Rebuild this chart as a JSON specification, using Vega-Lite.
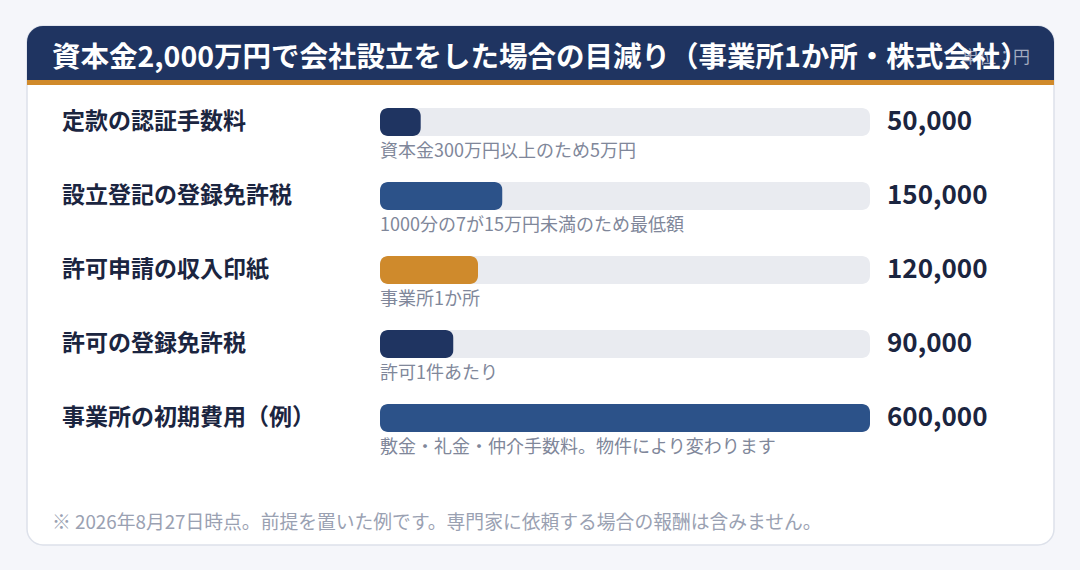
{
  "$schema": "https://vega.github.io/schema/vega-lite/v6.json",
  "width": 1080,
  "height": 570,
  "autosize": {"type": "fit", "contains": "padding"},
  "padding": {"left": 27, "right": 26, "top": 26, "bottom": 25},
  "background": "#f5f6fa",
  "config": {
    "view": {"fill": "#ffffff", "stroke": "#dde1ea", "strokeWidth": 1.5, "cornerRadius": 16},
    "font": "Noto Sans CJK JP"
  },
  "data": {
    "values": [
      {"item": "定款の認証手数料", "value": 50000, "note": "資本金300万円以上のため5万円", "tone": "navy"},
      {"item": "設立登記の登録免許税", "value": 150000, "note": "1000分の7が15万円未満のため最低額", "tone": "blue"},
      {"item": "許可申請の収入印紙", "value": 120000, "note": "事業所1か所", "tone": "orange"},
      {"item": "許可の登録免許税", "value": 90000, "note": "許可1件あたり", "tone": "navy"},
      {"item": "事業所の初期費用（例）", "value": 600000, "note": "敷金・礼金・仲介手数料。物件により変わります", "tone": "blue"}
    ]
  },
  "layer": [
    {
      "data": {"values": [{"part": "header"}]},
      "mark": {"type": "rect", "color": "#1f3461", "cornerRadiusTopLeft": 16, "cornerRadiusTopRight": 16},
      "encoding": {"x": {"value": 0}, "x2": {"value": "width"}, "y": {"value": 0}, "y2": {"value": 54}}
    },
    {
      "data": {"values": [{"part": "accent"}]},
      "mark": {"type": "rect", "color": "#d08a2b"},
      "encoding": {"x": {"value": 0}, "x2": {"value": "width"}, "y": {"value": 54}, "y2": {"value": 59}}
    },
    {
      "data": {"values": [{"t": "単位：円"}]},
      "mark": {"type": "text", "align": "right", "baseline": "middle", "fontSize": 17, "color": "#a3abc0"},
      "encoding": {"x": {"value": 1003}, "y": {"value": 32}, "text": {"field": "t"}}
    },
    {
      "data": {"values": [{"t": "資本金2,000万円で会社設立をした場合の目減り（事業所1か所・株式会社）"}]},
      "mark": {"type": "text", "align": "left", "baseline": "middle", "fontSize": 28.5, "fontWeight": "bold", "color": "#ffffff"},
      "encoding": {"x": {"value": 25}, "y": {"value": 32}, "text": {"field": "t"}}
    },
    {
      "mark": {"type": "bar", "size": 28, "cornerRadius": 8, "color": "#e9ebf0"},
      "encoding": {
        "y": {"field": "item", "type": "nominal", "sort": null, "scale": {"type": "point", "range": [96, 392], "padding": 0}, "axis": null},
        "x": {"datum": 600000, "type": "quantitative", "scale": {"domain": [0, 600000], "range": [353, 843], "nice": false}, "axis": null}
      }
    },
    {
      "mark": {"type": "bar", "size": 28, "cornerRadius": 8},
      "encoding": {
        "y": {"field": "item", "type": "nominal", "sort": null, "axis": null},
        "x": {"field": "value", "type": "quantitative", "axis": null},
        "color": {"field": "tone", "type": "nominal", "scale": {"domain": ["navy", "blue", "orange"], "range": ["#1f3461", "#2c5289", "#cf8a2c"]}, "legend": null}
      }
    },
    {
      "mark": {"type": "text", "align": "left", "baseline": "middle", "fontSize": 23, "fontWeight": "bold", "color": "#1b2540"},
      "encoding": {
        "y": {"field": "item", "type": "nominal", "sort": null, "axis": null},
        "x": {"value": 35},
        "text": {"field": "item"}
      }
    },
    {
      "mark": {"type": "text", "align": "left", "baseline": "middle", "fontSize": 26, "fontWeight": "bold", "color": "#1b2540"},
      "encoding": {
        "y": {"field": "item", "type": "nominal", "sort": null, "axis": null},
        "x": {"value": 860},
        "text": {"field": "value", "type": "quantitative", "format": ","}
      }
    },
    {
      "mark": {"type": "text", "align": "left", "baseline": "middle", "dy": 30, "fontSize": 18, "color": "#80879a"},
      "encoding": {
        "y": {"field": "item", "type": "nominal", "sort": null, "axis": null},
        "x": {"datum": 0, "type": "quantitative"},
        "text": {"field": "note"}
      }
    },
    {
      "data": {"values": [{"t": "※ 2026年8月27日時点。前提を置いた例です。専門家に依頼する場合の報酬は含みません。"}]},
      "mark": {"type": "text", "align": "left", "baseline": "middle", "fontSize": 18.8, "color": "#9aa1b2"},
      "encoding": {"x": {"value": 25}, "y": {"value": 497}, "text": {"field": "t"}}
    }
  ]
}
